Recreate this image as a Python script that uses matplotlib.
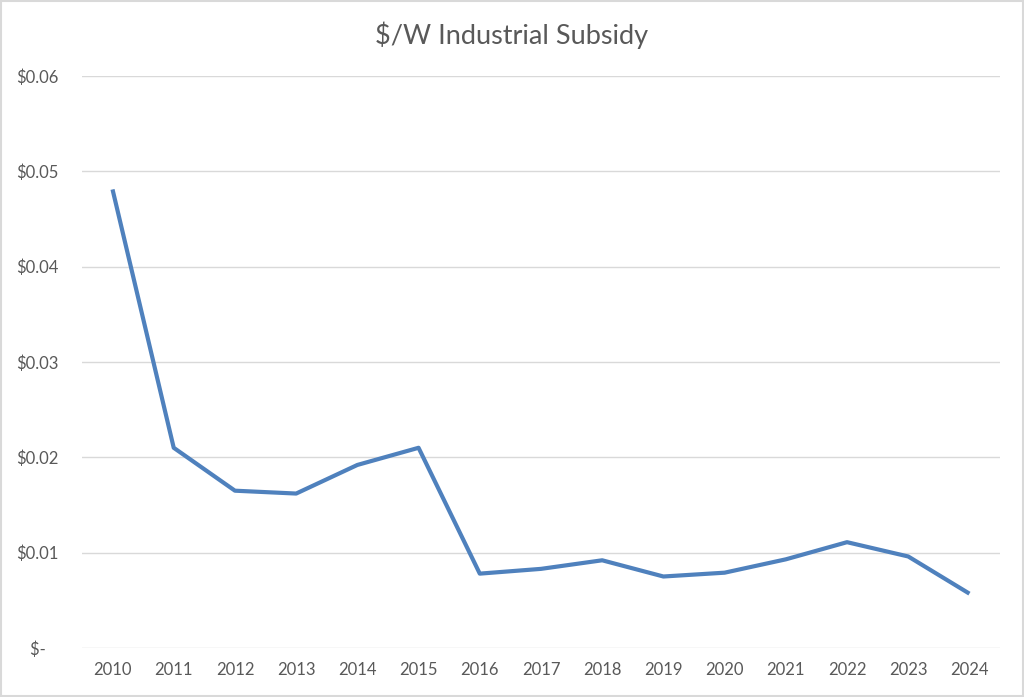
import matplotlib.pyplot as plt
from matplotlib.ticker import FuncFormatter
from matplotlib.patches import Rectangle

years = [str(y) for y in range(2010, 2025)]
subsidy = [0.0481, 0.0210, 0.0165, 0.0162, 0.0192, 0.0210, 0.0078, 0.0083,
           0.0092, 0.0075, 0.0079, 0.0093, 0.0111, 0.0096, 0.0057]

plt.rcParams['font.family'] = ['Lato', 'DejaVu Sans']
text_color = '#595959'

fig = plt.figure(figsize=(10.24, 6.97), dpi=100)
ax = fig.add_axes([0.080, 0.0703, 0.8966, 0.8207])

x = range(len(years))
ax.plot(x, subsidy, color='#4f81bd', linewidth=3, solid_capstyle='butt',
        solid_joinstyle='round', zorder=3)

ax.set_xlim(-0.5, len(years) - 0.5)
ax.set_ylim(0, 0.06)
ax.set_yticks([0, 0.01, 0.02, 0.03, 0.04, 0.05, 0.06])
# accounting style: zero shows as "$-" with a little padding on the right
ax.yaxis.set_major_formatter(
    FuncFormatter(lambda v, p: '$-   ' if v == 0 else f'${v:.2f}'))
ax.set_xticks(list(x))
ax.set_xticklabels(years)

ax.grid(axis='y', color='#d9d9d9', linewidth=1)
ax.set_axisbelow(True)
for s in ax.spines.values():
    s.set_visible(False)
ax.tick_params(length=0, labelsize=12, colors=text_color)
ax.tick_params(axis='y', pad=17)
ax.tick_params(axis='x', pad=10)

fig.text(0.5, 0.949, '$/W Industrial Subsidy', ha='center', va='center',
         fontsize=19.5, color=text_color)

fig.patches.append(Rectangle((0.001, 0.001), 0.998, 0.998, transform=fig.transFigure,
                             fill=False, edgecolor='#d9d9d9', linewidth=1.5))

fig.savefig('out.png', dpi=100)
